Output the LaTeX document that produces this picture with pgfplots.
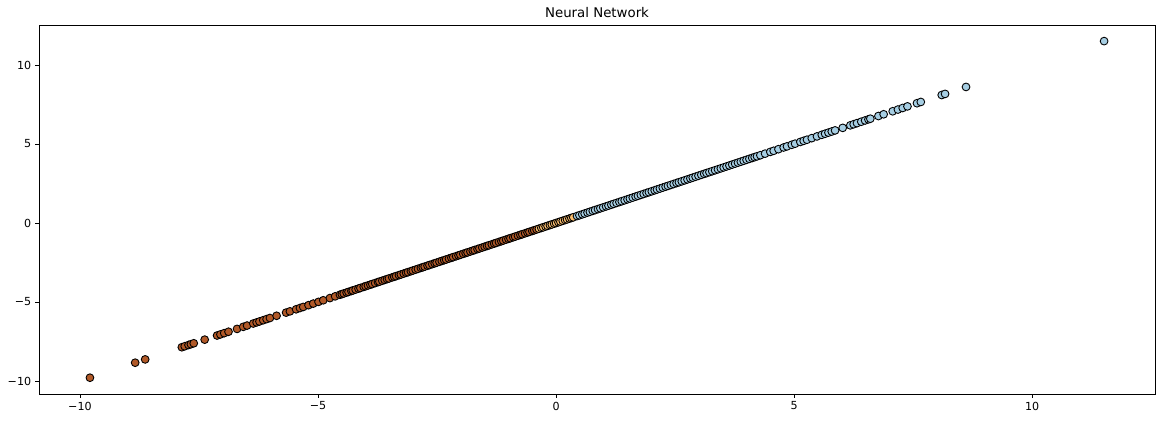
\documentclass[border=0pt]{standalone}
\usepackage{fontspec}
\setmainfont{DejaVu Sans}
\usepackage{pgfplots}
\pgfplotsset{compat=1.18}
\definecolor{cbrown}{HTML}{B15928}
\definecolor{corange}{HTML}{FDBF6F}
\definecolor{cblue}{HTML}{A6CEE3}
\begin{document}
\begin{tikzpicture}
\useasboundingbox (-35.1pt,-23.4pt) rectangle (1011.6pt,354.6pt);
\begin{axis}[
  at={(0,0)}, anchor=south west,
  scale only axis, width=1004.4pt, height=332.1pt,
  xmin=-10.86, xmax=12.58, ymin=-10.82, ymax=12.53,
  xtick={-10,-5,0,5,10}, xticklabels={−10,−5,0,5,10},
  ytick={-10,-5,0,5,10}, yticklabels={−10,−5,0,5,10},
  tick align=outside, tick pos=left, major tick length=3.5pt,
  every tick/.style={black, line width=0.7pt},
  axis line style={line width=0.7pt},
  ticklabel style={font=\fontsize{10}{12}\selectfont},
  title={Neural Network}, title style={font=\fontsize{12}{14}\selectfont, yshift=-3pt},
  clip=false,
]
\addplot[only marks, mark=*, mark size=3.5pt, mark options={fill=cbrown, draw=black, line width=0.8pt}]
  table[x=v, y=v] {
v
-9.79
-8.84
-8.63
-7.86
-7.80
-7.72
-7.67
-7.61
-7.38
-7.12
-7.05
-6.97
-6.88
-6.70
-6.57
-6.49
-6.36
-6.29
-6.23
-6.15
-6.08
-6.01
-5.87
-5.67
-5.59
-5.46
-5.38
-5.31
-5.20
-5.10
-4.99
-4.89
-4.75
-4.64
-4.54
-4.50
-4.46
-4.40
-4.36
-4.30
-4.27
-4.21
-4.15
-4.11
-4.04
-4.00
-3.95
-3.90
-3.86
-3.80
-3.74
-3.71
-3.65
-3.60
-3.55
-3.51
-3.44
-3.40
-3.36
-3.30
-3.26
-3.20
-3.15
-3.11
-3.05
-3.01
-2.95
-2.90
-2.84
-2.80
-2.76
-2.70
-2.66
-2.60
-2.55
-2.51
-2.45
-2.40
-2.35
-2.31
-2.25
-2.20
-2.16
-2.10
-2.05
-2.01
-1.95
-1.90
-1.86
-1.80
-1.75
-1.71
-1.65
-1.61
-1.55
-1.50
-1.45
-1.41
-1.35
-1.30
-1.26
-1.20
-1.15
-1.11
-1.05
-1.00
-0.96
-0.90
-0.86
-0.80
-0.75
-0.71
-0.65
-0.60
-0.56
-0.50
-0.46
-0.41
};
\addplot[only marks, mark=*, mark size=3.5pt, mark options={fill=corange, draw=black, line width=0.8pt}]
  table[x=v, y=v] {
v
-0.36
-0.31
-0.27
-0.22
-0.18
-0.13
-0.09
-0.04
0.00
0.05
0.09
0.14
0.19
0.23
0.28
0.32
0.36
};
\addplot[only marks, mark=*, mark size=3.5pt, mark options={fill=cblue, draw=black, line width=0.8pt}]
  table[x=v, y=v] {
v
0.44
0.49
0.55
0.60
0.66
0.71
0.77
0.82
0.88
0.93
0.99
1.05
1.10
1.16
1.21
1.27
1.33
1.38
1.44
1.50
1.55
1.61
1.67
1.72
1.78
1.84
1.90
1.95
2.01
2.07
2.12
2.18
2.24
2.30
2.35
2.41
2.47
2.53
2.58
2.64
2.70
2.76
2.82
2.87
2.93
2.99
3.05
3.11
3.16
3.22
3.28
3.34
3.40
3.46
3.52
3.58
3.64
3.70
3.76
3.82
3.88
3.94
4.00
4.06
4.12
4.17
4.22
4.29
4.39
4.50
4.57
4.67
4.78
4.85
4.95
5.02
5.13
5.20
5.27
5.37
5.48
5.58
5.65
5.72
5.79
5.86
6.02
6.18
6.25
6.32
6.41
6.49
6.56
6.60
6.77
6.88
7.07
7.18
7.28
7.38
7.58
7.66
8.10
8.17
8.61
11.51
};
\end{axis}
\end{tikzpicture}
\end{document}
